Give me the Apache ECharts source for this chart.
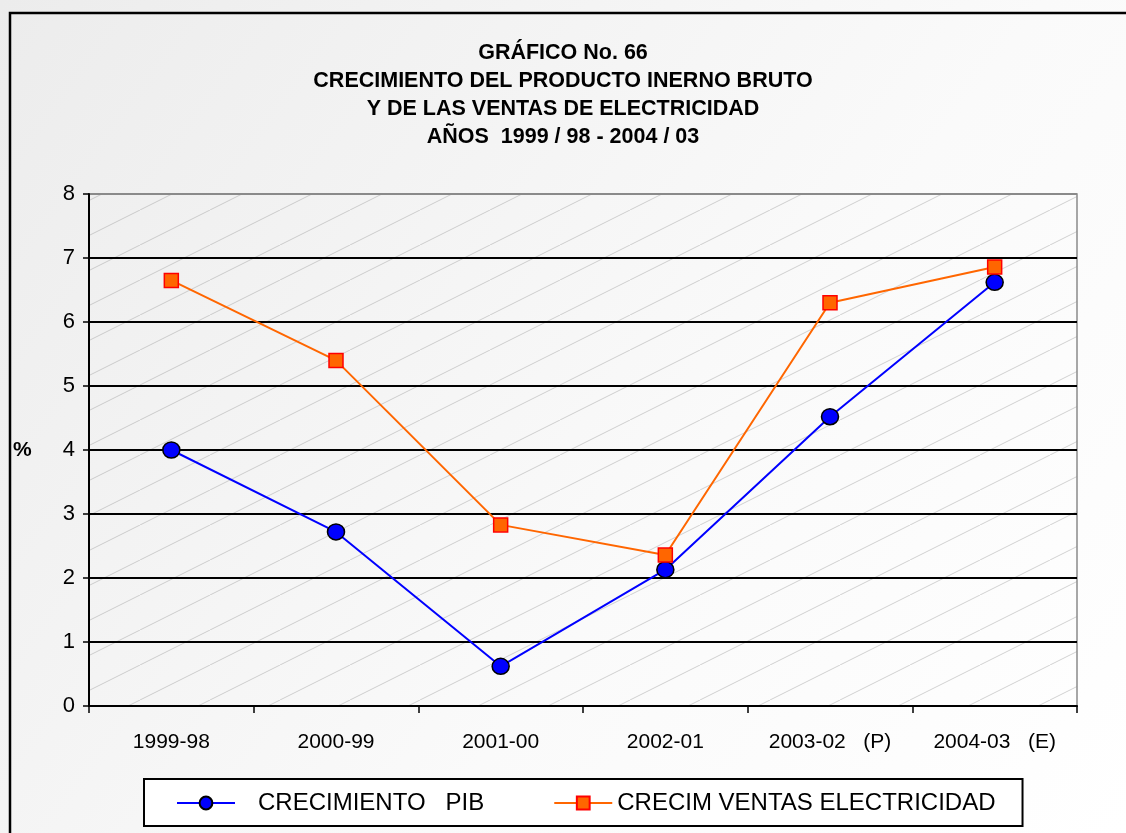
<!DOCTYPE html>
<html>
<head>
<meta charset="utf-8">
<script src="https://cdn.jsdelivr.net/npm/echarts@6/dist/echarts.min.js"></script>
<style>html,body{margin:0;padding:0;background:#fff}#c{width:1126px;height:833px}</style>
</head>
<body>
<div id="c"></div>
<script>
var categories = ['1999-98', '2000-99', '2001-00', '2002-01', '2003-02   (P)', '2004-03   (E)'];
var pib = [4.0, 2.72, 0.62, 2.13, 4.52, 6.62];
var ventas = [6.65, 5.4, 2.83, 2.36, 6.3, 6.86];
var yTicks = [0, 1, 2, 3, 4, 5, 6, 7, 8];
var titleLines = ['GRÁFICO No. 66', 'CRECIMIENTO DEL PRODUCTO INERNO BRUTO', 'Y DE LAS VENTAS DE ELECTRICIDAD', 'AÑOS  1999 / 98 - 2004 / 03'];

var pc = document.createElement('canvas');
pc.width = 70; pc.height = 35;
var g = pc.getContext('2d');
g.strokeStyle = 'rgba(160,160,160,0.6)';
g.lineWidth = 0.8;
g.beginPath(); g.moveTo(-2, 36); g.lineTo(72, -1); g.stroke();

var chart = echarts.init(document.getElementById('c'));
var font = '"Liberation Sans", Arial, sans-serif';
var splitColors = yTicks.map(function (t) { return t === yTicks[yTicks.length - 1] ? '#8a8a8a' : '#000'; });
chart.setOption({
  backgroundColor: new echarts.graphic.LinearGradient(0, 0, 1, 1, [
    {offset: 0, color: '#ececec'}, {offset: 0.6, color: '#fafafa'}, {offset: 1, color: '#ffffff'}]),
  textStyle: {fontFamily: font},
  animation: false,
  title: {
    text: titleLines.join('\n'),
    left: 'center', top: 34,
    textStyle: {fontSize: 21.5, fontWeight: 'bold', color: '#000', lineHeight: 28, fontFamily: font}
  },
  graphic: [
    {type: 'rect', shape: {x: 10, y: 13, width: 1200, height: 900}, style: {fill: 'none', stroke: '#000', lineWidth: 2.5}, z: 100},
    {type: 'text', left: 13, top: 440, style: {text: '%', font: 'bold 21px ' + font, fill: '#000'}}
  ],
  legend: {
    left: 144, top: 779,
    itemWidth: 58, itemHeight: 16, itemGap: 69,
    padding: [12, 27, 11, 32],
    borderColor: '#000', borderWidth: 2,
    backgroundColor: '#fff',
    textStyle: {fontSize: 24, color: '#000', fontFamily: font},
    data: [
      {name: 'CRECIMIENTO   PIB', textStyle: {padding: [0, 0, 0, 18]}},
      {name: 'CRECIM VENTAS ELECTRICIDAD', textStyle: {padding: [0, 0, 0, 0]}}
    ]
  },
  grid: {
    left: 89, right: 49, top: 194, bottom: 127,
    show: true,
    backgroundColor: {image: pc, repeat: 'repeat'},
    borderColor: '#8a8a8a', borderWidth: 1.5
  },
  xAxis: {
    type: 'category', data: categories, boundaryGap: true,
    axisLine: {lineStyle: {color: '#000', width: 2}},
    axisTick: {show: true, length: 7, inside: false, lineStyle: {color: '#000', width: 1.5}},
    axisLabel: {fontSize: 21, color: '#000', margin: 26, fontFamily: font}
  },
  yAxis: {
    type: 'value', min: 0, max: 8, interval: 1,
    axisLine: {show: true, lineStyle: {color: '#000', width: 2}},
    axisTick: {show: true, length: 6, lineStyle: {color: '#000', width: 1.5}},
    axisLabel: {fontSize: 22, color: '#000', margin: 14, fontFamily: font},
    splitLine: {show: true, lineStyle: {color: splitColors, width: 2}}
  },
  series: [
    {
      name: 'CRECIMIENTO   PIB', type: 'line', data: pib,
      symbol: 'circle', symbolSize: [17, 16],
      lineStyle: {color: '#0000ff', width: 2},
      itemStyle: {color: '#0000ff', borderColor: '#000', borderWidth: 1.5},
      z: 3
    },
    {
      name: 'CRECIM VENTAS ELECTRICIDAD', type: 'line', data: ventas,
      symbol: 'rect', symbolSize: 14,
      lineStyle: {color: '#ff6600', width: 2},
      itemStyle: {color: '#ff6600', borderColor: '#ff0000', borderWidth: 1.5},
      z: 4
    }
  ]
});
</script>
</body>
</html>
